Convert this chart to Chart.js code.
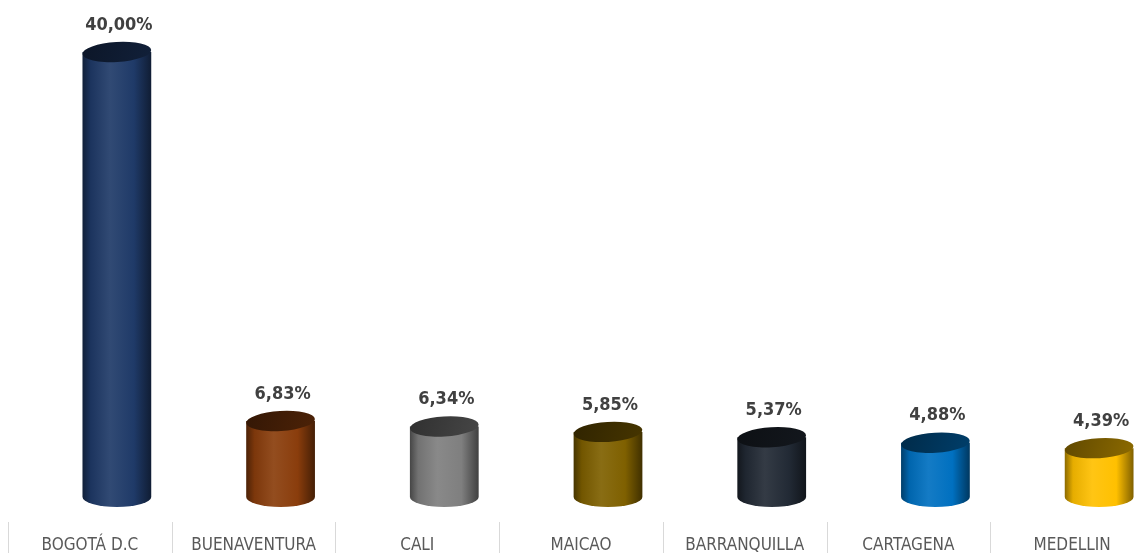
<!DOCTYPE html>
<html>
<head>
<meta charset="utf-8">
<script src="https://cdn.jsdelivr.net/npm/chart.js@4.4.1/dist/chart.umd.min.js"></script>
<style>
  html, body { margin: 0; padding: 0; background: #fff; overflow: hidden; }
  #wrap { width: 1154px; height: 553px; position: relative; }
</style>
</head>
<body>
<div id="wrap"><canvas id="chart"></canvas></div>
<script>
const cities = ["BOGOTÁ D.C", "BUENAVENTURA", "CALI", "MAICAO", "BARRANQUILLA", "CARTAGENA", "MEDELLIN"];
const shares = [40.0, 6.83, 6.34, 5.85, 5.37, 4.88, 4.39];
const barColors = ["#1f3a68", "#8a3d0c", "#7f7f7f", "#7f6000", "#222a35", "#0070c0", "#ffc000"];

const FONT = "'Liberation Sans Narrow', 'DejaVu Sans Condensed', sans-serif";

function shade(hex, f) {
  const n = parseInt(hex.slice(1), 16);
  let r = (n >> 16) & 255, g = (n >> 8) & 255, b = n & 255;
  if (f < 0) {
    r = Math.round(r * (1 + f)); g = Math.round(g * (1 + f)); b = Math.round(b * (1 + f));
  } else {
    r = Math.round(r + (255 - r) * f); g = Math.round(g + (255 - g) * f); b = Math.round(b + (255 - b) * f);
  }
  return `rgb(${r},${g},${b})`;
}

// draws each bar as a cylinder, shifted right a bit like the 3D depth offset
const cylinders = {
  id: "cylinders",
  afterDatasetsDraw(chart) {
    const ctx = chart.ctx;
    const meta = chart.getDatasetMeta(0);
    meta.data.forEach((bar, i) => {
      const w = bar.width;
      const cx = bar.x + 27;
      const left = cx - w / 2, right = cx + w / 2;
      const top = bar.y, base = bar.base;
      const ry = 10;
      const col = barColors[i];

      const body = ctx.createLinearGradient(left, 0, right, 0);
      body.addColorStop(0, shade(col, -0.45));
      body.addColorStop(0.12, shade(col, -0.1));
      body.addColorStop(0.4, shade(col, 0.08));
      body.addColorStop(0.75, col);
      body.addColorStop(1, shade(col, -0.5));

      ctx.save();
      ctx.beginPath();
      ctx.moveTo(left, top);
      ctx.lineTo(left, base);
      ctx.ellipse(cx, base, w / 2, ry, 0, Math.PI, 0, true);
      ctx.lineTo(right, top);
      ctx.closePath();
      ctx.fillStyle = body;
      ctx.fill();

      const cap = ctx.createLinearGradient(left, top - ry, right, top + ry);
      cap.addColorStop(0, shade(col, -0.62));
      cap.addColorStop(1, shade(col, -0.45));
      ctx.beginPath();
      ctx.ellipse(cx, top, w / 2, ry, -0.06, 0, Math.PI * 2);
      ctx.fillStyle = cap;
      ctx.fill();

      ctx.fillStyle = "#404040";
      ctx.font = "bold 18px " + FONT;
      ctx.textAlign = "center";
      ctx.textBaseline = "middle";
      ctx.fillText(shares[i].toFixed(2).replace(".", ",") + "%", cx + 2, top - 27);
      ctx.restore();
    });
  },
  afterDraw(chart) {
    const ctx = chart.ctx;
    const x = chart.scales.x;
    const step = x.getPixelForValue(1) - x.getPixelForValue(0);
    ctx.save();
    ctx.strokeStyle = "#d9d9d9";
    ctx.lineWidth = 1;
    for (let i = 0; i <= cities.length; i++) {
      const px = Math.round(x.getPixelForValue(i) - step / 2) + 0.5;
      ctx.beginPath();
      ctx.moveTo(px, chart.chartArea.bottom + 25);
      ctx.lineTo(px, chart.height);
      ctx.stroke();
    }
    ctx.restore();
  },
};

new Chart(document.getElementById("chart"), {
  type: "bar",
  data: {
    labels: cities,
    datasets: [
      {
        data: shares,
        backgroundColor: "rgba(0,0,0,0)",
        borderWidth: 0,
        barPercentage: 0.42,
        categoryPercentage: 1,
      },
    ],
  },
  options: {
    responsive: true,
    maintainAspectRatio: false,
    animation: false,
    layout: { padding: { top: 52, left: 8, right: 0, bottom: 0 } },
    plugins: { legend: { display: false }, tooltip: { enabled: false } },
    scales: {
      y: { display: false, min: 0, max: 40 },
      x: {
        grid: { display: false, drawTicks: false },
        border: { display: false },
        afterFit(scale) {
          scale.height = 56;
        },
        ticks: {
          padding: 38,
          color: "#595959",
          font: { family: FONT, size: 17 },
          maxRotation: 0,
          autoSkip: false,
        },
      },
    },
  },
  plugins: [cylinders],
});
</script>
</body>
</html>
